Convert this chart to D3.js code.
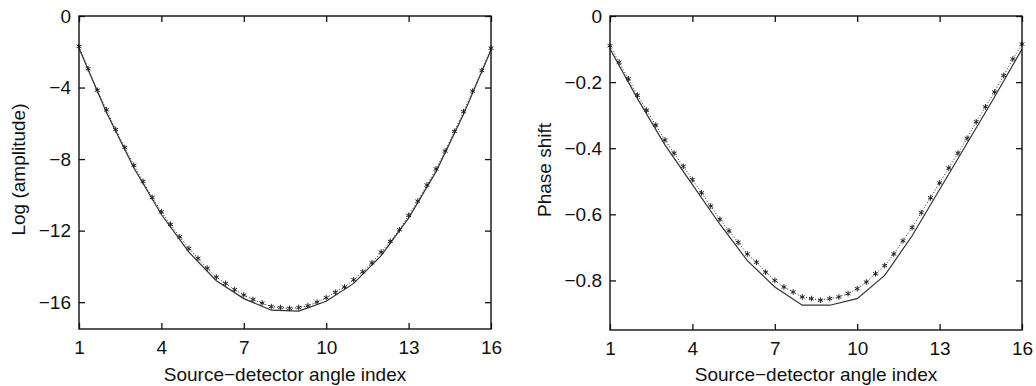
<!DOCTYPE html>
<html>
<head>
<meta charset="utf-8">
<script src="https://cdn.jsdelivr.net/npm/d3@7"></script>
<style>
  body { margin: 0; background: #fff; }
  svg text { font-family: "Liberation Sans", Arial, sans-serif; fill: #111; }
</style>
</head>
<body>
<div id="chart"></div>
<script>
// detector index for the solid (true) curve
const index = d3.range(1, 17);

// reconstruction samples are plotted every third of an index step
const fineIndex = [
  1, 1.333, 1.667, 2, 2.333, 2.667, 3, 3.333, 3.667, 4, 4.333, 4.667,
  5, 5.333, 5.667, 6, 6.333, 6.667, 7, 7.333, 7.667, 8, 8.333, 8.667,
  9, 9.333, 9.667, 10, 10.333, 10.667, 11, 11.333, 11.667, 12, 12.333, 12.667,
  13, 13.333, 13.667, 14, 14.333, 14.667, 15, 15.333, 15.667, 16
];

const logAmpTrue = [
  -1.8, -5.4, -8.5, -11.1, -13.2, -14.8, -15.8, -16.45,
  -16.5, -15.95, -14.95, -13.4, -11.3, -8.7, -5.5, -1.9
];
const logAmpRecon = [
  -1.7, -2.95, -4.15, -5.25, -6.35, -7.35, -8.35, -9.25, -10.15, -10.95, -11.65, -12.35,
  -13.0, -13.55, -14.1, -14.6, -14.95, -15.3, -15.6, -15.85, -16.05, -16.25, -16.3, -16.35,
  -16.3, -16.2, -16.0, -15.75, -15.45, -15.15, -14.75, -14.3, -13.8, -13.2, -12.6, -11.95,
  -11.15, -10.35, -9.45, -8.55, -7.55, -6.45, -5.35, -4.2, -3.05, -1.8
];

const phaseTrue = [
  -0.10, -0.25, -0.39, -0.51, -0.63, -0.74, -0.82, -0.875,
  -0.875, -0.855, -0.785, -0.665, -0.525, -0.385, -0.245, -0.10
];
const phaseRecon = [
  -0.09, -0.14, -0.19, -0.24, -0.285, -0.33, -0.375, -0.415, -0.455, -0.495, -0.535, -0.575,
  -0.615, -0.65, -0.685, -0.72, -0.745, -0.775, -0.80, -0.82, -0.835, -0.85, -0.855, -0.86,
  -0.855, -0.85, -0.84, -0.825, -0.805, -0.78, -0.755, -0.72, -0.68, -0.64, -0.595, -0.55,
  -0.505, -0.46, -0.415, -0.37, -0.32, -0.275, -0.23, -0.18, -0.13, -0.085
];

const xTicks = [1, 4, 7, 10, 13, 16];
const ampTicks = [0, -4, -8, -12, -16];
const phaseTicks = [0, -0.2, -0.4, -0.6, -0.8];

const width = 1036;
const height = 386;
const fontSize = 19;

const svg = d3.select("#chart")
  .append("svg")
  .attr("width", width)
  .attr("height", height);

const minus = (s) => s.replace("-", "\u2212");

function drawPanel(opts) {
  const { left, right, top, bottom, yDomain, yTicks, yFmt, yLabel, labelX, truth, recon } = opts;

  const x = d3.scaleLinear().domain([1, 16]).range([left, right]);
  const y = d3.scaleLinear().domain(yDomain).range([bottom, top]);

  const g = svg.append("g");

  // curves first, frame drawn over them
  const line = d3.line().x((d) => x(d[0])).y((d) => y(d[1]));

  g.append("path")
    .datum(d3.zip(fineIndex, recon))
    .attr("d", line)
    .attr("fill", "none")
    .attr("stroke", "#222")
    .attr("stroke-width", 1)
    .attr("stroke-dasharray", "1,2");

  g.append("path")
    .datum(d3.zip(index, truth))
    .attr("d", line)
    .attr("fill", "none")
    .attr("stroke", "#333")
    .attr("stroke-width", 1.2);

  const star = d3.symbol().type(d3.symbolAsterisk).size(22);
  g.append("g")
    .selectAll("path")
    .data(d3.zip(fineIndex, recon))
    .join("path")
    .attr("transform", (d) => `translate(${x(d[0])},${y(d[1])})`)
    .attr("d", star)
    .attr("fill", "none")
    .attr("stroke", "#222")
    .attr("stroke-width", 1);

  // axes: ticks point inwards, on all four sides
  const tickLen = 6;
  g.append("g")
    .attr("transform", `translate(0,${bottom})`)
    .call(d3.axisBottom(x).tickValues(xTicks).tickSize(-tickLen).tickPadding(12).tickFormat(d3.format("d")))
    .call((a) => a.select(".domain").remove());
  g.append("g")
    .attr("transform", `translate(0,${top})`)
    .call(d3.axisTop(x).tickValues(xTicks).tickSize(-tickLen).tickFormat(""))
    .call((a) => a.select(".domain").remove());
  g.append("g")
    .attr("transform", `translate(${left},0)`)
    .call(d3.axisLeft(y).tickValues(yTicks).tickSize(-tickLen).tickPadding(8).tickFormat((d) => minus(yFmt(d))))
    .call((a) => a.select(".domain").remove());
  g.append("g")
    .attr("transform", `translate(${right},0)`)
    .call(d3.axisRight(y).tickValues(yTicks).tickSize(-tickLen).tickFormat(""))
    .call((a) => a.select(".domain").remove());

  g.selectAll(".tick line").attr("stroke", "#111").attr("stroke-width", 1.3);
  g.selectAll(".tick text")
    .attr("font-size", fontSize)
    .style("font-family", '"Liberation Sans", Arial, sans-serif')
    .attr("fill", "#111");

  g.append("rect")
    .attr("x", left)
    .attr("y", top)
    .attr("width", right - left)
    .attr("height", bottom - top)
    .attr("fill", "none")
    .attr("stroke", "#111")
    .attr("stroke-width", 1.4);

  g.append("text")
    .attr("x", (left + right) / 2)
    .attr("y", 381)
    .attr("text-anchor", "middle")
    .attr("font-size", fontSize)
    .text("Source\u2212detector angle index");

  g.append("text")
    .attr("transform", `translate(${labelX},${(top + bottom) / 2 - 3}) rotate(-90)`)
    .attr("text-anchor", "middle")
    .attr("font-size", fontSize)
    .text(yLabel);
}

drawPanel({
  left: 79, right: 491, top: 16, bottom: 329,
  yDomain: [-17.5, 0], yTicks: ampTicks, yFmt: d3.format("d"),
  yLabel: "Log (amplitude)", labelX: 25,
  truth: logAmpTrue, recon: logAmpRecon
});

drawPanel({
  left: 610, right: 1022, top: 16, bottom: 330,
  yDomain: [-0.95, 0], yTicks: phaseTicks, yFmt: (d) => (d === 0 ? "0" : d3.format(".1f")(d)),
  yLabel: "Phase shift", labelX: 551,
  truth: phaseTrue, recon: phaseRecon
});
</script>
</body>
</html>
